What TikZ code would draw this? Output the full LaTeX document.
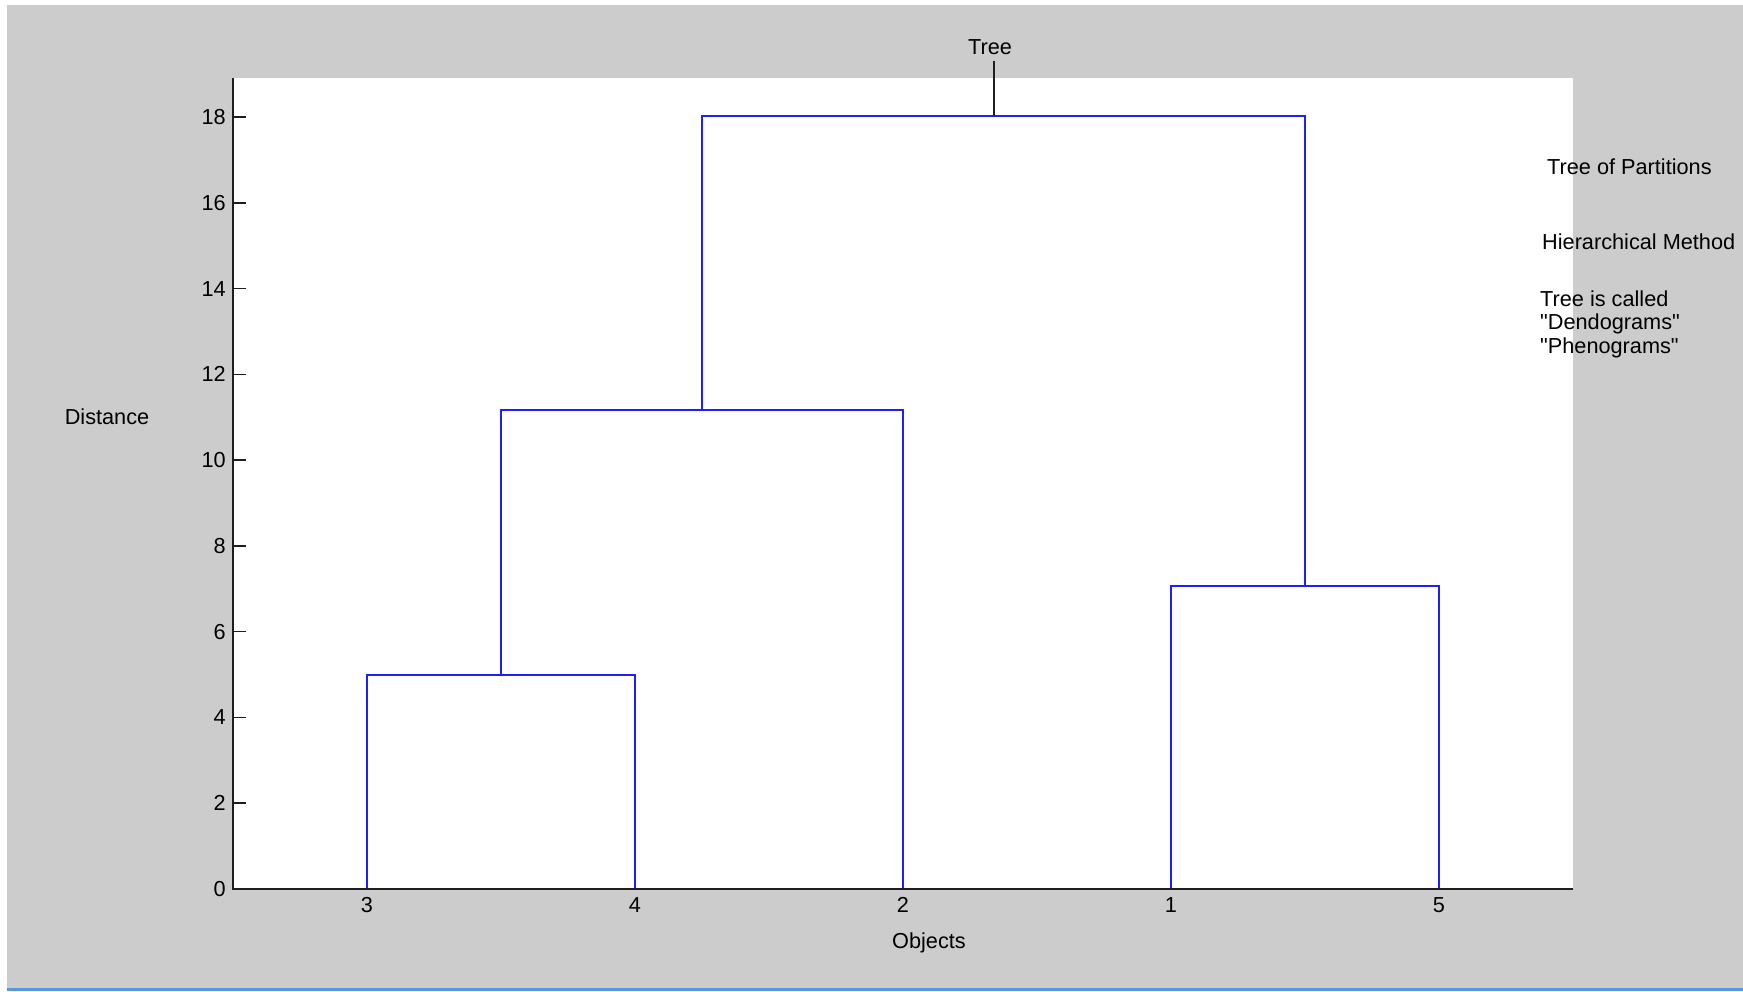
\documentclass[tikz,border=0pt]{standalone}
\usepackage{fontspec}
\setmainfont{Liberation Sans}
\newfontfamily\qfont{Liberation Sans}
\definecolor{bggray}{RGB}{204,204,204}
\definecolor{dendblue}{RGB}{30,30,255}
\definecolor{axisdark}{RGB}{30,30,30}
\definecolor{edgeblue}{RGB}{90,150,220}
\begin{document}
\begin{tikzpicture}[x=1pt,y=-1pt,
  lbl/.style={font=\qfont\fontsize{21.7}{24}\selectfont, inner sep=0pt, text=black},
  den/.style={draw=dendblue, line width=2pt},
  axline/.style={draw=axisdark, line width=2pt},
  tickline/.style={draw=axisdark, line width=1.6pt}]
% canvas and panels
\useasboundingbox (0,0) rectangle (1743,991);
\fill[white] (0,0) rectangle (1743,991);
\fill[bggray] (7,5) rectangle (1743,988);
\fill[edgeblue] (7,988) rectangle (1743,991);
\fill[white] (233,78) rectangle (1573,889);

% leaves
\coordinate (L3) at (367,889);
\coordinate (L4) at (635,889);
\coordinate (L2) at (903,889);
\coordinate (L1) at (1171,889);
\coordinate (L5) at (1439,889);
% merges (y = 889 - 42.89*height)
\coordinate (m34) at (501,674.6);
\coordinate (m342) at (702,409.5);
\coordinate (m15) at (1305,585.8);
\coordinate (mtop) at (1003.5,115.7);

\draw[den] (L3) |- (m34) -| (L4);
\draw[den] (m34) |- (m342) -| (L2);
\draw[den] (L1) |- (m15) -| (L5);
\draw[den] (m342) |- (mtop) -| (m15);

% stem to title
\coordinate (stemtop) at (994,61);
\coordinate (stembot) at (994,115.7);
\draw[tickline] (stemtop) -- (stembot);
\node[lbl] (title) at (990,47) {Tree};

% axes
\coordinate (origin) at (233,889);
\coordinate (ytop) at (233,78);
\coordinate (xend) at (1573,889);
\draw[axline] (ytop) -- (origin) -- (xend);
\foreach \v in {0,2,...,18} {
  \pgfmathsetmacro{\yy}{889-42.89*\v}
  \draw[tickline] (233,\yy) -- (246,\yy);
  \node[lbl, anchor=east] (yt\v) at (226,\yy) {\v};
}
\node[lbl] (x3) at (367,905) {3};
\node[lbl] (x4) at (635,905) {4};
\node[lbl] (x2) at (903,905) {2};
\node[lbl] (x1) at (1171,905) {1};
\node[lbl] (x5) at (1439,905) {5};
\node[lbl] (xlab) at (929,943) {Objects};
\node[lbl] (ylab) at (107,417) {Distance};

% notes
\node[lbl, anchor=west] (n1) at (1547,167) {Tree of Partitions};
\node[lbl, anchor=west] (n2) at (1542,242) {Hierarchical Method};
\node[lbl, anchor=west] (n3) at (1540,299) {Tree is called};
\node[lbl, anchor=west] (n4) at (1540,323.5) {"Dendograms"};
\node[lbl, anchor=west] (n5) at (1540,348) {"Phenograms"};
\end{tikzpicture}
\end{document}
